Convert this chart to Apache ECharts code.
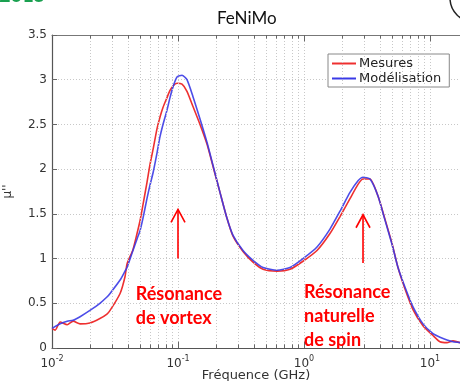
<!DOCTYPE html>
<html>
<head>
<meta charset="utf-8">
<script src="https://cdn.jsdelivr.net/npm/echarts@6/dist/echarts.min.js"></script>
<style>
  html, body { margin: 0; padding: 0; background: #fff; }
  #chart { width: 460px; height: 381px; }
</style>
</head>
<body>
<div id="chart"></div>
<script>
// frequency in GHz (log axis)
const freqGHz = [0.0100, 0.0106, 0.0116, 0.0132, 0.0147, 0.0167, 0.0200, 0.0240, 0.0273, 0.0289,
  0.0347, 0.0380, 0.0394, 0.0439, 0.0473, 0.0499, 0.0527, 0.0567, 0.0599, 0.0634,
  0.0681, 0.0719, 0.0760, 0.0818, 0.0864, 0.0913, 0.0982, 0.1076, 0.1178, 0.1315,
  0.1495, 0.1698, 0.1897, 0.2154, 0.2448, 0.2733, 0.3281, 0.3938, 0.4728, 0.6109,
  0.7746, 0.9818, 1.268, 1.607, 1.931, 2.317, 2.683, 2.940, 3.340, 3.866,
  4.393, 4.993, 5.571, 6.335, 7.330, 8.795, 10.56, 12.00, 13.64, 15.23, 17.31];

const mesures = [0.22, 0.20, 0.29, 0.26, 0.30, 0.27, 0.28, 0.33, 0.38, 0.42,
  0.61, 0.80, 0.94, 1.10, 1.28, 1.42, 1.60, 1.85, 2.05, 2.22,
  2.45, 2.58, 2.69, 2.80, 2.88, 2.93, 2.96, 2.95, 2.87, 2.70,
  2.50, 2.28, 2.03, 1.74, 1.45, 1.25, 1.08, 0.96, 0.88, 0.86,
  0.88, 0.97, 1.09, 1.28, 1.47, 1.67, 1.83, 1.89, 1.89, 1.70,
  1.44, 1.17, 0.90, 0.66, 0.43, 0.25, 0.14, 0.07, 0.06, 0.08, 0.06];

const modelisation = [0.22, 0.24, 0.27, 0.30, 0.31, 0.35, 0.42, 0.50, 0.57, 0.61,
  0.76, 0.86, 0.90, 1.09, 1.22, 1.31, 1.45, 1.67, 1.82, 1.96,
  2.18, 2.36, 2.50, 2.66, 2.80, 2.92, 3.03, 3.05, 3.00, 2.81,
  2.56, 2.30, 2.04, 1.74, 1.45, 1.26, 1.09, 0.98, 0.90, 0.87,
  0.90, 1.00, 1.13, 1.33, 1.53, 1.74, 1.87, 1.91, 1.89, 1.70,
  1.43, 1.16, 0.90, 0.68, 0.46, 0.27, 0.16, 0.12, 0.09, 0.07, 0.06];

const xMin = 0.01;
const xMax = 17.3;
const yMax = 3.5;

// red annotations: text anchor + arrow (data units)
const notes = [
  { text: 'Résonance\nde vortex', freq: 0.0462, value: 0.74, arrowFreq: 0.1, arrowFrom: 1.0, arrowTo: 1.55 },
  { text: 'Résonance\nnaturelle\nde spin', freq: 1.0, value: 0.76, arrowFreq: 2.94, arrowFrom: 0.95, arrowTo: 1.49 }
];

const chart = echarts.init(document.getElementById('chart'));

// vertical log grid lines + small ticks top/bottom
const gridFreqs = [];
for (let k = -2; k <= 1; k++) {
  for (let m = 1; m <= 9; m++) {
    const f = m * Math.pow(10, k);
    if (f > xMin * 1.001 && f <= xMax) gridFreqs.push({ f, major: m === 1 });
  }
}
const tickStyle = { color: '#666', type: 'solid', width: 1 };
const markData = [];
gridFreqs.forEach(g => {
  markData.push([{ coord: [g.f, 0] }, { coord: [g.f, yMax] }]);
});
gridFreqs.forEach(g => {
  const len = g.major ? 0.07 : 0.04;
  markData.push([{ coord: [g.f, 0], lineStyle: tickStyle }, { coord: [g.f, len] }]);
  markData.push([{ coord: [g.f, yMax], lineStyle: tickStyle }, { coord: [g.f, yMax - len] }]);
});

const axisFont = 'DejaVu Sans';

chart.setOption({
  animation: false,
  title: {
    text: 'FeNiMo',
    left: 212,
    top: 5,
    textStyle: { fontFamily: 'Lato', fontSize: 17, fontWeight: 'normal', color: '#111' }
  },
  legend: {
    data: ['Mesures', 'Modélisation'],
    orient: 'vertical',
    left: 328,
    top: 54,
    icon: 'rect',
    itemWidth: 24,
    itemHeight: 2,
    itemGap: 2,
    padding: [3, 8, 2, 4],
    backgroundColor: '#fff',
    borderColor: '#888',
    borderWidth: 1,
    textStyle: { fontFamily: axisFont, fontSize: 13, color: '#222', padding: [0, 0, 0, -2] }
  },
  grid: { left: 52, right: 0, top: 35, bottom: 33, containLabel: false, outerBoundsMode: 'none' },
  xAxis: [
    {
      type: 'log',
      logBase: 10,
      min: xMin,
      max: xMax,
      name: 'Fréquence (GHz)',
      nameLocation: 'middle',
      nameGap: 21,
      nameMoveOverlap: false,
      nameTextStyle: { fontFamily: axisFont, fontSize: 13, color: '#333', verticalAlign: 'top' },
      axisLine: { lineStyle: { color: '#555', width: 1.2 } },
      axisTick: { show: false },
      splitLine: { show: false },
      axisLabel: {
        margin: 7,
        showMaxLabel: false,
        formatter: v => {
          const e = Math.log10(v);
          const r = Math.round(e);
          if (Math.abs(e - r) > 1e-6) return '';
          return '{b|10}{s|' + r + '}';
        },
        rich: {
          b: { fontFamily: axisFont, fontSize: 12, color: '#333' },
          s: { fontFamily: axisFont, fontSize: 8, color: '#333', padding: [0, 0, 9, 0] }
        }
      }
    },
    {
      type: 'log',
      logBase: 10,
      min: xMin,
      max: xMax,
      position: 'top',
      axisLine: { lineStyle: { color: '#777', width: 1 } },
      axisTick: { show: false },
      axisLabel: { show: false },
      splitLine: { show: false }
    }
  ],
  yAxis: {
    type: 'value',
    min: 0,
    max: yMax,
    interval: 0.5,
    name: "µ''",
    nameLocation: 'middle',
    nameRotate: 90,
    nameGap: 38,
    nameMoveOverlap: false,
    nameTextStyle: { fontFamily: axisFont, fontSize: 12, color: '#333' },
    axisLine: { show: true, lineStyle: { color: '#555', width: 1.2 } },
    axisTick: { show: true, inside: true, length: 5, lineStyle: { color: '#666' } },
    axisLabel: { fontFamily: axisFont, fontSize: 12, color: '#333', margin: 5 },
    splitLine: { show: true, lineStyle: { color: '#c8c8c8', type: [1, 2], width: 1 } }
  },
  series: [
    {
      name: 'grid',
      type: 'line',
      data: [],
      z: 1,
      silent: true,
      markLine: {
        silent: true,
        symbol: 'none',
        animation: false,
        label: { show: false },
        emphasis: { disabled: true },
        lineStyle: { color: '#c8c8c8', type: [1, 2], width: 1 },
        data: markData
      }
    },
    {
      name: 'Mesures',
      type: 'line',
      z: 3,
      symbol: 'none',
      showSymbol: false,
      smooth: 0.2,
      color: '#ee3030',
      lineStyle: { width: 1.6, color: '#ee3030' },
      data: freqGHz.map((f, i) => [f, mesures[i]])
    },
    {
      name: 'Modélisation',
      type: 'line',
      z: 4,
      symbol: 'none',
      showSymbol: false,
      smooth: 0.2,
      color: '#3a3ae6',
      lineStyle: { width: 1.6, color: '#3a3ae6', opacity: 0.9 },
      data: freqGHz.map((f, i) => [f, modelisation[i]])
    }
  ]
});

// annotations placed through the chart's own scales
const px = (f, v) => chart.convertToPixel({ seriesIndex: 1 }, [f, v]);
const graphics = [];
notes.forEach(n => {
  const tail = px(n.arrowFreq, n.arrowFrom);
  const head = px(n.arrowFreq, n.arrowTo);
  graphics.push({
    type: 'polyline', silent: true, z: 10,
    shape: { points: [tail, head] },
    style: { stroke: '#ff0000', lineWidth: 1.6, fill: null }
  });
  graphics.push({
    type: 'polyline', silent: true, z: 10,
    shape: { points: [[head[0] - 7, head[1] + 13], head, [head[0] + 7, head[1] + 13]] },
    style: { stroke: '#ff0000', lineWidth: 1.6, fill: null }
  });
  const p = px(n.freq, n.value);
  graphics.push({
    type: 'text', silent: true, z: 10,
    x: p[0], y: p[1],
    style: {
      text: n.text,
      fill: '#ff0000',
      font: 'bold 18px Lato',
      lineHeight: 24,
      verticalAlign: 'top',
      align: 'left'
    }
  });
});
// cropped bits of the slide around the figure
graphics.push({
  type: 'text', silent: true, x: -1, y: -14,
  style: { text: '2015', fill: '#1aa050', font: 'bold 20px Lato' }
});
graphics.push({
  type: 'circle', silent: true,
  shape: { cx: 474, cy: -2, r: 24 },
  style: { stroke: '#222', lineWidth: 1.5, fill: null }
});
chart.setOption({ graphic: graphics });
</script>
</body>
</html>
